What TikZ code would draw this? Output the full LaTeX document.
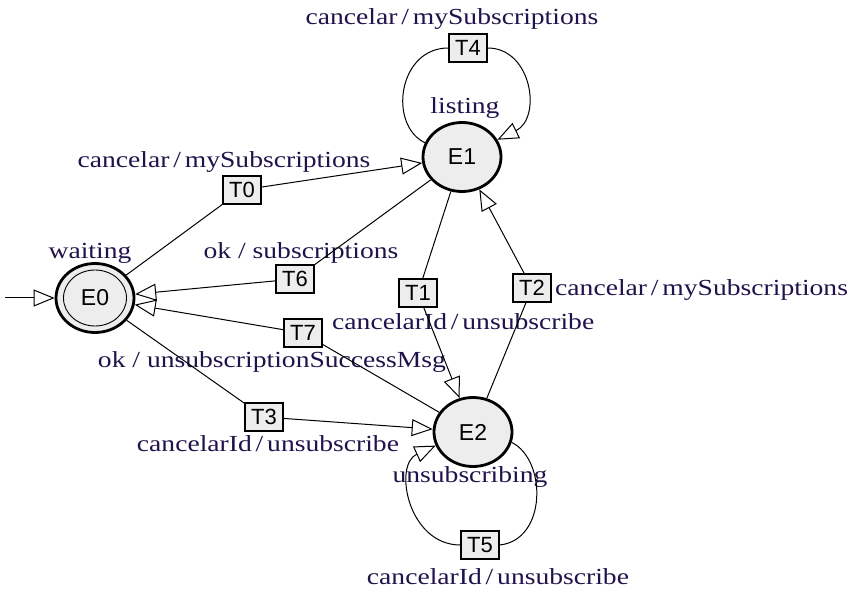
\documentclass[tikz,border=0pt]{standalone}
\usepackage{fontspec}
\newfontfamily\lblfont{Liberation Serif}[FakeStretch=1.2]
\newfontfamily\nodefont{Liberation Sans}
\usetikzlibrary{shapes.geometric,arrows.meta}
\definecolor{lblcol}{RGB}{32,18,75}
\definecolor{statefill}{RGB}{237,237,237}
\begin{document}
\begin{tikzpicture}[x=1pt,y=-1pt,
  state/.style={ellipse,draw=black,line width=2.8pt,fill=statefill,minimum width=78pt,minimum height=69pt,inner sep=0pt,font={\nodefont\fontsize{23}{25}\selectfont}},
  innerring/.style={ellipse,draw=black,line width=0.9pt,minimum width=63pt,minimum height=56pt,inner sep=0pt},
  trans/.style={rectangle,draw=black,line width=1.3pt,fill=statefill,minimum width=38pt,minimum height=28pt,inner sep=0pt,font={\nodefont\fontsize{22}{24}\selectfont}},
  lbl/.style={text=lblcol,inner sep=0pt,font={\lblfont\fontsize{23}{25}\selectfont}},
  edge/.style={line width=1pt,draw=black},
  arr/.style={edge,-{Triangle[length=21pt,width=17pt,fill=white,line width=1pt]}}
]
\useasboundingbox (0,0) rectangle (860,593);

% states
\node[state] (E0) at (95,298) {E0};
\node[innerring] (E0in) at (95,298) {};
\node[state] (E1) at (462,157) {E1};
\node[state] (E2) at (473,432) {E2};

% state names
\node[lbl] (nwait) at (90,253) {waiting};
\node[lbl] (nlist) at (465,108) {listing};
\node[lbl] (nunsub) at (470,477) {unsubscribing};

% transition boxes
\node[trans] (T0) at (242,190) {T0};
\node[trans] (T1) at (418,293) {T1};
\node[trans] (T2) at (532,288) {T2};
\node[trans] (T3) at (264,417) {T3};
\node[trans] (T4) at (468,48) {T4};
\node[trans] (T5) at (480,545) {T5};
\node[trans] (T6) at (295,279) {T6};
\node[trans] (T7) at (303,333) {T7};

% transition labels
\node[lbl] (lT4) at (452,19) {cancelar\,/\,mySubscriptions};
\node[lbl] (lT0) at (224,162) {cancelar\,/\,mySubscriptions};
\node[lbl] (lT6) at (301,253) {ok / subscriptions};
\node[lbl,anchor=west] (lT1) at (332,322) {cancelarId\,/\,unsubscribe};
\node[lbl,anchor=west] (lT2) at (555,290) {cancelar\,/\,mySubscriptions};
\node[lbl] (lT7) at (272,362) {ok / unsubscriptionSuccessMsg};
\node[lbl] (lT3) at (268,444) {cancelarId\,/\,unsubscribe};
\node[lbl] (lT5) at (498,577) {cancelarId\,/\,unsubscribe};

% connectors
\coordinate (init) at (5,298);
\draw[arr] (init) -- (E0);

\draw[edge] (E0) -- (T0);
\draw[arr] (T0) -- (E1);
\draw[edge] (E1) -- (T6);
\draw[arr] (T6) -- (E0);
\draw[edge] (E1) -- (T1);
\draw[arr] (T1) -- (E2);
\draw[edge] (E2) -- (T2);
\draw[arr] (T2) -- (E1);
\draw[edge] (E2) -- (T7);
\draw[arr] (T7) -- (E0);
\draw[edge] (E0) -- (T3);
\draw[arr] (T3) -- (E2);

% self loops
\draw[edge] (E1.159) .. controls (388,125) and (398,48) .. (T4.west);
\draw[arr] (T4.east) .. controls (532,48) and (542,118) .. (E1.26);
\draw[edge] (E2.-15) .. controls (547,460) and (547,540) .. (T5.east);
\draw[arr] (T5.west) .. controls (408,545) and (393,465) .. (E2.200);
\end{tikzpicture}
\end{document}
